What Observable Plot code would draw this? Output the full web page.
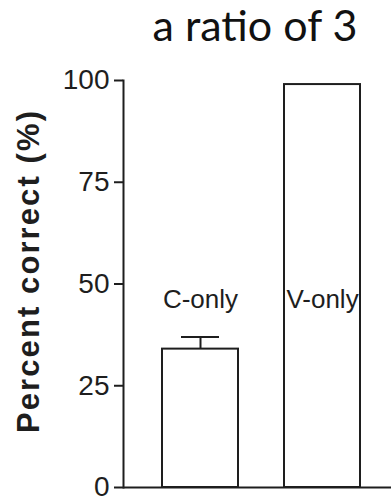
<!DOCTYPE html>
<html><head><meta charset="utf-8">
<script src="https://cdn.jsdelivr.net/npm/d3@7"></script>
<script src="https://cdn.jsdelivr.net/npm/@observablehq/plot@0.6"></script>
<style>
body{margin:0;background:#fff;}
#title{width:391px;height:60px;box-sizing:border-box;padding-left:119px;text-align:center;font-family:Lato,"Open Sans",sans-serif;font-size:43px;line-height:50px;color:#111;white-space:nowrap;overflow:visible;}
#chart svg{display:block;}
</style></head><body>
<div id="title"></div>
<div id="chart"></div>
<script>
const title = "a ratio of 3";
const categories = ["C-only", "V-only"];
const values = [34, 99];
const errors = [3, 0];
const yTicks = [0, 25, 50, 75, 100];
const yLabel = "Percent correct (%)";
const labelLevel = 44;

document.getElementById("title").textContent = title;

const data = categories.map((c, i) => ({cat: c, value: values[i], err: errors[i]}));
const errData = data.filter(d => d.err > 0);
const ink = "#1e1e1e";

const plot = Plot.plot({
  width: 391,
  height: 440,
  marginTop: 20,
  marginBottom: 13,
  marginLeft: 123,
  marginRight: 0,
  style: {fontFamily: '"Liberation Sans", Arial, sans-serif', background: "#fff", color: ink, overflow: "visible"},
  x: {domain: categories, range: [123, 391], paddingInner: 0.375, paddingOuter: 0.28, align: 0.565, axis: null},
  y: {domain: [0, 100], axis: null},
  marks: [
    Plot.axisY({ticks: yTicks, tickSize: 9, tickPadding: 5, fontSize: 28, label: null, stroke: ink, strokeWidth: 2}),
    Plot.barY(data, {x: "cat", y: "value", fill: "white", stroke: ink, strokeWidth: 2}),
    Plot.ruleX(errData, {x: "cat", y1: "value", y2: d => d.value + d.err, stroke: ink, strokeWidth: 2}),
    Plot.tickY(errData, {x: "cat", y: d => d.value + d.err, insetLeft: 19, insetRight: 19, stroke: ink, strokeWidth: 2}),
    Plot.ruleY([0], {stroke: ink, strokeWidth: 2}),
    Plot.frame({anchor: "left", stroke: ink, strokeWidth: 2}),
    Plot.text(data, {x: "cat", y: d => labelLevel, text: "cat", fontSize: 26, lineAnchor: "bottom", fill: ink}),
    Plot.text([yLabel], {frameAnchor: "left", text: d => d, rotate: -90, textAnchor: "middle", fontSize: 31, fontWeight: "bold", dx: -94, dy: -12, fill: ink, className: "ylab"})
  ]
});
document.getElementById("chart").appendChild(plot);
const yl = plot.querySelector(".ylab text");
if (yl) { yl.setAttribute("textLength", 322); yl.setAttribute("lengthAdjust", "spacing"); }
</script>
</body></html>
